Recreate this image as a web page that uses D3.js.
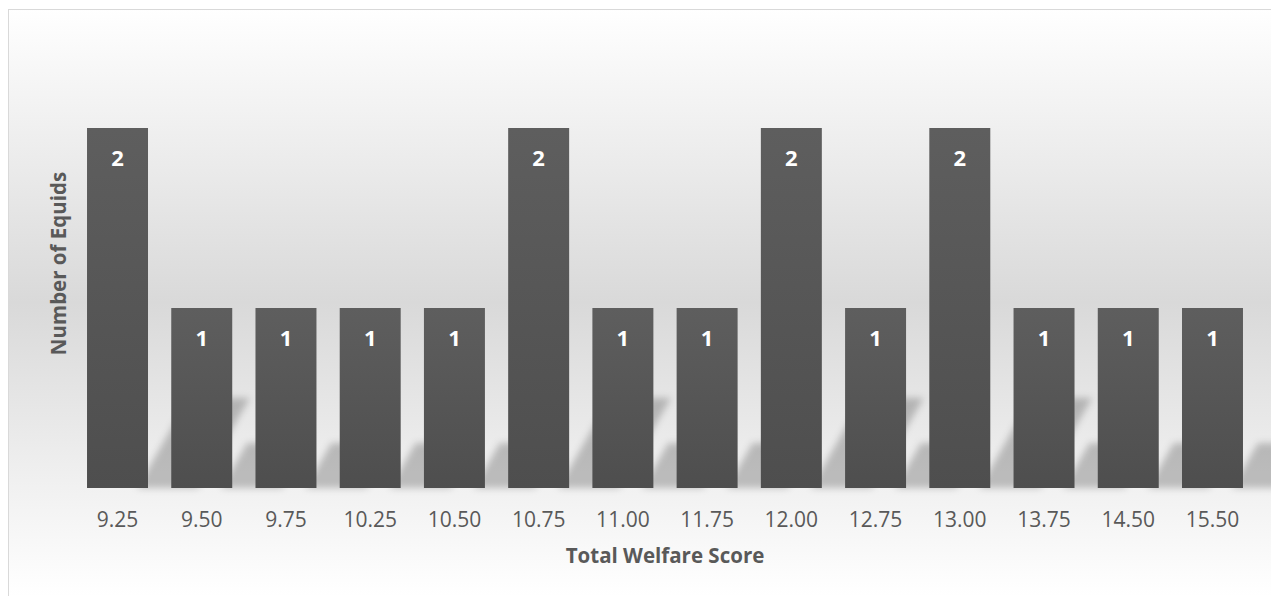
<!DOCTYPE html>
<html><head><meta charset="utf-8">
<script src="https://cdn.jsdelivr.net/npm/d3@7"></script>
<style>body{margin:0;background:#fff;} svg{display:block;}</style>
</head><body>
<svg id="chart" width="1271" height="596"></svg>
<script>
// ---- data ----
const categories = ["9.25","9.50","9.75","10.25","10.50","10.75","11.00","11.75","12.00","12.75","13.00","13.75","14.50","15.50"];
const counts = [2,1,1,1,1,2,1,1,2,1,2,1,1,1];
const xTitle = "Total Welfare Score";
const yTitle = "Number of Equids";
const yMax = 2.5;

const data = categories.map((c,i)=>({cat:c, value:counts[i]}));
const W = 1271, H = 596;
const svg = d3.select("#chart");
const defs = svg.append("defs");

const bg = defs.append("linearGradient").attr("id","bgGrad")
  .attr("gradientUnits","userSpaceOnUse").attr("x1",0).attr("y1",9).attr("x2",0).attr("y2",596);
bg.append("stop").attr("offset","0").attr("stop-color","#ffffff");
bg.append("stop").attr("offset","0.5").attr("stop-color","#d9d9d9");
bg.append("stop").attr("offset","1").attr("stop-color","#ffffff");

const bar = defs.append("linearGradient").attr("id","barGrad")
  .attr("x1",0).attr("y1",0).attr("x2",0).attr("y2",1);
bar.append("stop").attr("offset","0").attr("stop-color","#5e5e5e");
bar.append("stop").attr("offset","1").attr("stop-color","#4e4e4e");

const blur = defs.append("filter").attr("id","shBlur")
  .attr("x","-50%").attr("y","-50%").attr("width","200%").attr("height","200%");
blur.append("feGaussianBlur").attr("stdDeviation",3.5);

svg.append("rect").attr("x",8.5).attr("y",9.5).attr("width",W).attr("height",H)
  .attr("fill","url(#bgGrad)").attr("stroke","#d9d9d9").attr("stroke-width",1);

const x = d3.scaleBand().domain(categories).range([75.4,1254.6])
  .paddingInner(0.276).paddingOuter(0.138);
const y = d3.scaleLinear().domain([0,yMax]).range([488,38]);

// perspective-like shadows (offset right, flattened, skewed)
const shadowG = svg.append("g").attr("filter","url(#shBlur)");
shadowG.selectAll("path").data(data).join("path")
  .attr("d", d=>{
    const x0 = x(d.cat) + 50, w = x.bandwidth(), b = y(0);
    const h = (y(0)-y(d.value))*0.25, dx = h*0.575;
    return `M${x0},${b}L${x0+w},${b}L${x0+w+dx},${b-h}L${x0+dx},${b-h}Z`;
  })
  .attr("fill","#000").attr("opacity",0.22);

svg.append("g").selectAll("rect").data(data).join("rect")
  .attr("x",d=>x(d.cat)).attr("y",d=>y(d.value))
  .attr("width",x.bandwidth()).attr("height",d=>y(0)-y(d.value))
  .attr("fill","url(#barGrad)");

svg.append("g").selectAll("text").data(data).join("text")
  .attr("x",d=>x(d.cat)+x.bandwidth()/2).attr("y",d=>y(d.value)+38)
  .attr("text-anchor","middle").attr("fill","#ffffff")
  .attr("font-family","'Open Sans', sans-serif").attr("font-weight","bold").attr("font-size",22)
  .text(d=>d.value);

const xAxis = svg.append("g").attr("transform",`translate(0,${y(0)})`)
  .call(d3.axisBottom(x).tickSize(0));
xAxis.select(".domain").remove();
xAxis.selectAll("text").attr("y",39).attr("dy",null)
  .attr("fill","#595959").attr("font-family","'Open Sans', sans-serif").attr("font-size",21);

svg.append("text").attr("x",(x.range()[0]+x.range()[1])/2).attr("y",563)
  .attr("text-anchor","middle").attr("fill","#595959")
  .attr("font-family","'Open Sans', sans-serif").attr("font-weight","bold").attr("font-size",20.5)
  .text(xTitle);

svg.append("text").attr("transform","translate(65.5,263.5) rotate(-90)")
  .attr("text-anchor","middle").attr("fill","#595959")
  .attr("font-family","'Open Sans', sans-serif").attr("font-weight","bold").attr("font-size",20.5)
  .text(yTitle);
</script>
</body></html>
